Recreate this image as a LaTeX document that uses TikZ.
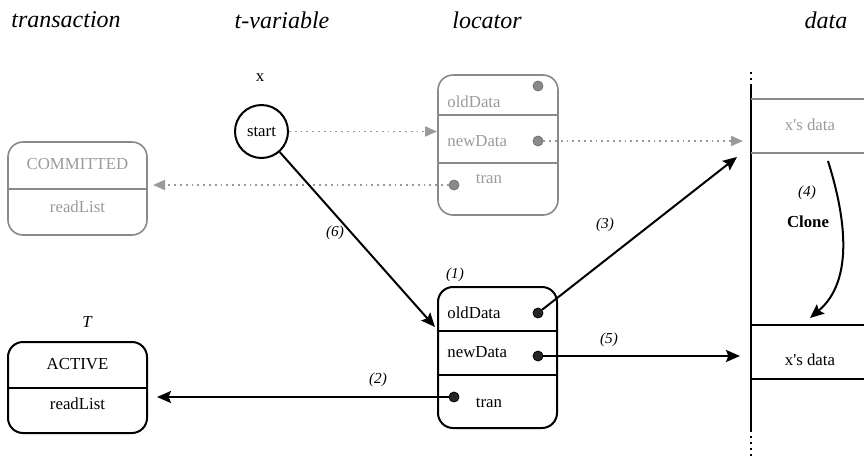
\documentclass[tikz,border=0pt]{standalone}
\usepackage{fontspec}
\setmainfont{Liberation Serif}
\usetikzlibrary{arrows.meta}
\definecolor{lgray}{HTML}{8A8A8A}
\definecolor{tgray}{HTML}{9A9A9A}
\newcommand{\xsdata}{x\textquotesingle s data}
\begin{document}
\begin{tikzpicture}[x=0.5pt,y=-0.5pt,
  body/.style={font=\fontsize{8.4}{10}\selectfont},
  lbl/.style={font=\fontsize{7.6}{9}\selectfont\itshape},
  head/.style={font=\fontsize{12}{14}\selectfont\itshape},
  bbox/.style={draw=black,line width=1pt,rounded corners=7.5pt,inner sep=0pt},
  gbox/.style={draw=lgray,line width=0.8pt,rounded corners=7.5pt,inner sep=0pt},
  bline/.style={draw=black,line width=1pt},
  gline/.style={draw=lgray,line width=0.8pt},
  bdot/.style={circle,fill=black!85,draw=black,line width=0.4pt,minimum size=5pt,inner sep=0pt},
  gdot/.style={circle,fill=lgray,draw=black!55,line width=0.4pt,minimum size=5pt,inner sep=0pt},
  barrow/.style={draw=black,line width=1pt,-{Stealth[length=7pt,width=6pt,inset=1.2pt]}},
  garrow/.style={draw=tgray,line width=0.9pt,dotted,-{Triangle[length=6pt,width=5pt]}},
  gtext/.style={body,text=tgray}]
\useasboundingbox (0,0) rectangle (864,456);

% column headings
\node[head] (h1) at (66,20) {transaction};
\node[head] (h2) at (282,20) {t-variable};
\node[head] (h3) at (487,20) {locator};
\node[head] (h4) at (826,20) {data};

% t-variable x
\node[body] (xl) at (260,78) {x};
\node[body,circle,draw,line width=1pt,minimum size=26.5pt,inner sep=0pt] (start) at (261.5,131.5) {start};

% old locator (gray)
\node[gbox,minimum width=60pt,minimum height=70pt] (gl) at (498,145) {};
\draw[gline] (438,115) -- (558,115);
\draw[gline] (438,163) -- (558,163);
\node[gtext,anchor=west,inner sep=0pt] (glo) at (447,102) {oldData};
\node[gtext,anchor=west,inner sep=0pt] (gln) at (447,141) {newData};
\node[gtext] (glt) at (489,179) {tran};
\node[gdot] (god) at (538,86) {};
\node[gdot] (gnd) at (538,141) {};
\node[gdot] (gtd) at (454,185) {};

% new locator (black)
\node[bbox,minimum width=59.5pt,minimum height=70.5pt] (bl) at (497.5,357.5) {};
\draw[bline] (438,331) -- (557,331);
\draw[bline] (438,375) -- (557,375);
\node[body,anchor=west,inner sep=0pt] (blo) at (447,313) {oldData};
\node[body,anchor=west,inner sep=0pt] (bln) at (447,352) {newData};
\node[body] (blt) at (489,403) {tran};
\node[bdot] (bod) at (538,313) {};
\node[bdot] (bnd) at (538,356) {};
\node[bdot] (btd) at (454,397) {};
\node[lbl] (l1) at (455,275) {(1)};

% transactions
\node[gbox,minimum width=69.5pt,minimum height=46.5pt] (comm) at (77.5,188.5) {};
\draw[gline] (8,189) -- (147,189);
\node[gtext] (commt) at (77.5,164) {COMMITTED};
\node[gtext] (commr) at (77.5,207) {readList};

\node[bbox,minimum width=69.5pt,minimum height=45.5pt] (act) at (77.5,387.5) {};
\draw[bline] (8,388) -- (147,388);
\node[body] (actt) at (77.5,364) {ACTIVE};
\node[body] (actr) at (77.5,404) {readList};
\node[body,font=\fontsize{8.4}{10}\selectfont\itshape] (tl) at (87,322) {T};

% data column
\draw[black,line width=1pt,dotted] (751,72) -- (751,85);
\draw[black,line width=1pt] (751,85) -- (751,430);
\draw[black,line width=1pt,dotted] (751,430) -- (751,456);
\draw[gline] (751,99) -- (864,99);
\draw[gline] (751,153) -- (864,153);
\node[gtext] (gdata) at (810,125) {\xsdata};
\draw[bline] (751,325) -- (864,325);
\draw[bline] (751,379) -- (864,379);
\node[body] (bdata) at (810,360) {\xsdata};

% arrow end points
\coordinate (tipA) at (437,131.5);
\coordinate (tipB) at (743,141);
\coordinate (tipC) at (153,185);
\coordinate (tip6) at (435,327);
\coordinate (tip3) at (737,157);
\coordinate (tip5) at (740,356);
\coordinate (tip2) at (157,397);
\coordinate (cl0) at (828,161);
\coordinate (cl1) at (810,318);

% gray (old) pointers
\draw[garrow] (start.east) -- (tipA);
\draw[garrow] (gnd) -- (tipB);
\draw[garrow] (gtd) -- (tipC);

% black (new) pointers
\draw[barrow] (start) -- (tip6);
\draw[barrow] (bod) -- (tip3);
\draw[barrow] (bnd) -- (tip5);
\draw[barrow] (btd) -- (tip2);
\draw[barrow] (cl0) .. controls (845,215) and (855,280) .. (cl1);

% step labels
\node[lbl] (l2) at (378,380) {(2)};
\node[lbl] (l3) at (605,225) {(3)};
\node[lbl] (l4) at (807,193) {(4)};
\node[body,font=\fontsize{8.4}{10}\selectfont\bfseries] (clone) at (808,222) {Clone};
\node[lbl] (l5) at (609,340) {(5)};
\node[lbl] (l6) at (335,233) {(6)};
\end{tikzpicture}
\end{document}
